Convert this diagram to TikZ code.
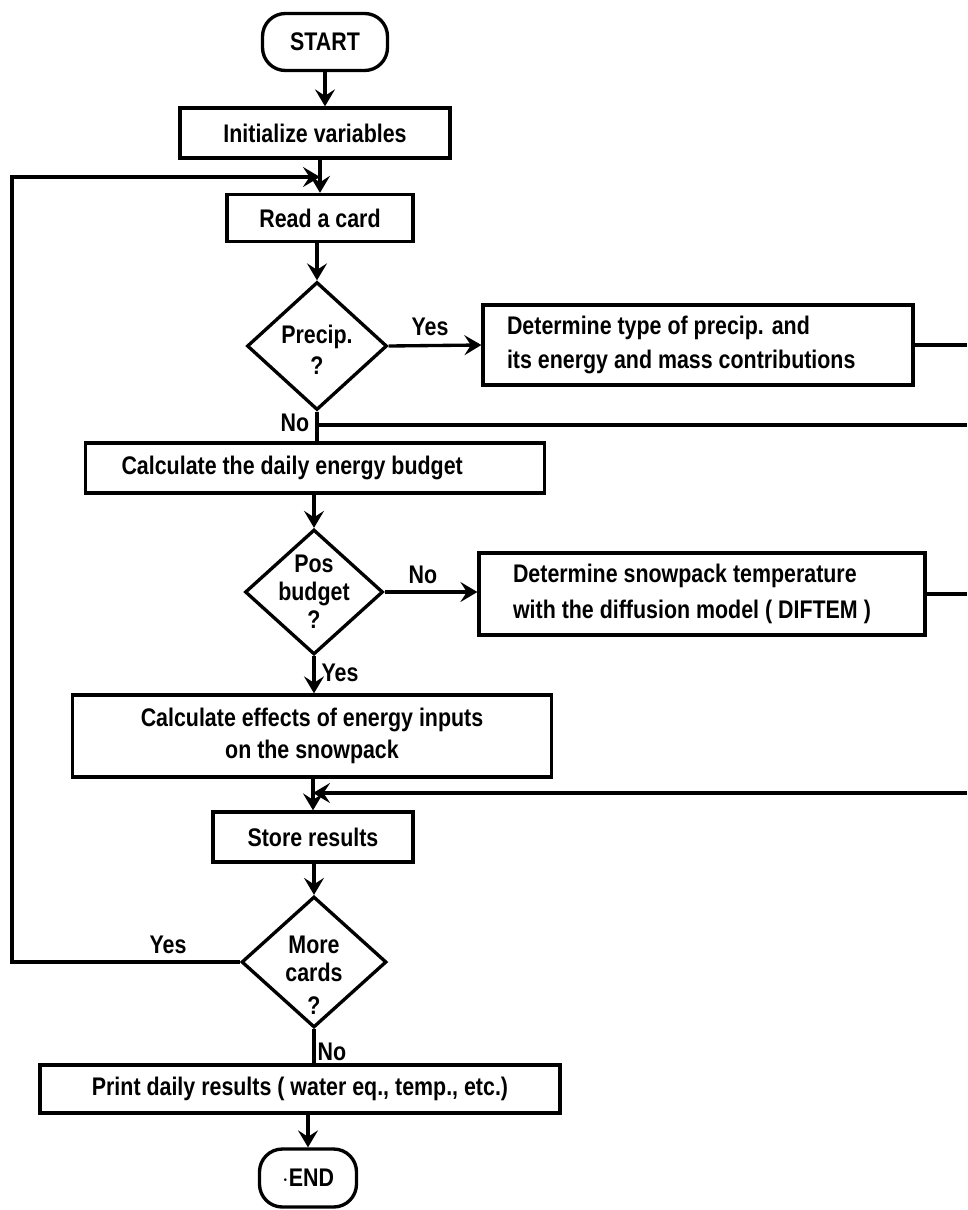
\documentclass[tikz,border=0pt]{standalone}
\usepackage{fontspec}
\setmainfont{Liberation Sans}[FakeStretch=0.84]
\usetikzlibrary{arrows.meta, shapes.geometric}
\tikzset{
  %% -- Boxes ---------------------------------------------------------
  %% One weight of rule for everything: the original is an old
  %% typewritten chart, so every box is a plain black frame.
  bloc/.style       = {draw, rectangle, line width=1.9pt, align=center,
                       inner sep=3pt, font=\fontsize{14.5}{17.4}\selectfont\bfseries},
  blocGauche/.style = {bloc, align=flush left},
  borne/.style      = {bloc, rounded corners=13pt},
  decision/.style   = {bloc, diamond, inner sep=-5pt,
                       font=\fontsize{14.5}{16}\selectfont\bfseries},
  %%
  %% -- Arrows --------------------------------------------------------
  fleche/.style     = {-{Stealth[length=3.4mm, width=4mm, inset=1.3mm]},
                       line width=1.9pt},
  ligne/.style      = {line width=1.9pt},
  %%
  %% -- Text ----------------------------------------------------------
  etiquette/.style  = {font=\fontsize{14.5}{17}\selectfont\bfseries, inner sep=1pt},
}

\begin{document}
\begin{tikzpicture}[x=0.02cm, y=-0.02cm]
\useasboundingbox (0,0) rectangle (967,1210);

\node[borne, minimum width=2.5cm, minimum height=1.14cm] (start) at (325, 42) {START};
\node[bloc, minimum width=5.4cm, minimum height=1.0cm] (init) at (315, 133) {Initialize variables};
\node[bloc, minimum width=3.72cm, minimum height=0.94cm] (read) at (320, 218) {Read a card};
\node[decision, minimum width=2.8cm, minimum height=2.56cm] (precip) at (317, 346)
     {\rule{0pt}{15pt}Precip.\\[2pt]?};
\node[blocGauche, text width=7.64cm, inner xsep=0.48cm, minimum height=1.6cm] (apport) at (698, 345)
     {Determine type of precip. and\\[2pt]its energy and mass contributions};
\node[blocGauche, text width=7.74cm, inner xsep=0.72cm, minimum height=1.0cm] (bilan) at (315, 468)
     {Calculate the daily energy budget};
\node[decision, minimum width=2.76cm, minimum height=2.5cm] (pos) at (314, 592) {Pos\\budget\\?};
\node[blocGauche, text width=7.56cm, inner xsep=0.68cm, minimum height=1.64cm] (diftem) at (702, 594)
     {Determine snowpack temperature\\[3pt]with the diffusion model ( DIFTEM )};
\node[bloc, minimum width=9.58cm, minimum height=1.64cm] (effets) at (312, 736)
     {Calculate effects of energy inputs\\[1pt]on the snowpack};
\node[bloc, minimum width=4.0cm, minimum height=1.0cm] (store) at (313, 837) {Store results};
\node[decision, inner sep=-9pt, minimum width=2.9cm, minimum height=2.62cm] (more) at (314, 962)
     {\rule{0pt}{25pt}More\\cards\\[3pt]?};
\node[bloc, minimum width=10.4cm, minimum height=0.96cm] (print) at (300, 1089)
     {Print daily results ( water eq., temp., etc.)};
\node[borne, minimum width=1.94cm, minimum height=1.16cm] (end) at (308, 1178) {$\cdot$END};

% junctions and the right-hand edge
\coordinate (bord)    at (967, 0);
\coordinate (gauche)  at (12, 0);
\coordinate (jBoucle) at (320, 177);
\coordinate (jNon)    at (317, 425);
\coordinate (jStore)  at (313, 793);

\draw[fleche] (start.south) -- (start.south |- init.north);
\draw[fleche] (read.north |- init.south) -- (read.north);
\draw[fleche] (read.south -| precip.north) -- (precip.north);
\draw[fleche] (precip.east) -- (apport.west);
\draw[ligne]  (precip.south) -- (precip.south |- bilan.north);
\draw[fleche] (bilan.south -| pos.north) -- (pos.north);
\draw[fleche] (pos.east) -- (pos.east -| diftem.west);
\draw[fleche] (pos.south) -- (pos.south |- effets.north);
\draw[fleche] (store.north |- effets.south) -- (store.north);
\draw[fleche] (store.south -| more.north) -- (more.north);
\draw[ligne]  (more.south) -- (more.south |- print.north);
\draw[fleche] (end.north |- print.south) -- (end.north);

% loop back and the lines running off to the right
\draw[fleche] (more.west) -- (more.west -| gauche) |- (jBoucle);
\draw[ligne]  (apport.east) -- (apport.east -| bord);
\draw[ligne]  (jNon) -- (jNon -| bord);
\draw[ligne]  (diftem.east) -- (diftem.east -| bord);
\draw[fleche] (jStore -| bord) -- (jStore);

\node[etiquette] (oui1) at (430, 327) {Yes};
\node[etiquette] (non1) at (295, 423) {No};
\node[etiquette] (non2) at (423, 575) {No};
\node[etiquette] (oui2) at (340, 673) {Yes};
\node[etiquette] (oui3) at (168, 945) {Yes};
\node[etiquette] (non3) at (332, 1052) {No};

\end{tikzpicture}
\end{document}
